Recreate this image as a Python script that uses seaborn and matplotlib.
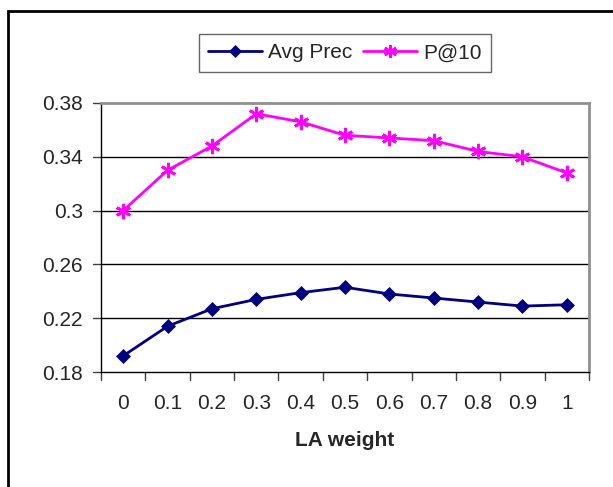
import matplotlib
matplotlib.use("Agg")
import matplotlib.pyplot as plt
import seaborn as sns
import pandas as pd
from matplotlib.patches import Rectangle
from matplotlib.transforms import blended_transform_factory

sns.set_style("white")
plt.rcParams['font.family'] = ['Liberation Sans', 'DejaVu Sans']

weights = ["0", "0.1", "0.2", "0.3", "0.4", "0.5", "0.6", "0.7", "0.8", "0.9", "1"]
avg_prec = [0.192, 0.214, 0.227, 0.234, 0.239, 0.243, 0.238, 0.235, 0.232, 0.229, 0.230]
p_at_10 = [0.300, 0.330, 0.348, 0.372, 0.366, 0.356, 0.354, 0.352, 0.344, 0.340, 0.328]
y_ticks = [0.18, 0.22, 0.26, 0.30, 0.34, 0.38]
y_tick_labels = ["0.18", "0.22", "0.26", "0.3", "0.34", "0.38"]

df = pd.DataFrame({
    "x": list(range(len(weights))) * 2,
    "value": avg_prec + p_at_10,
    "series": ["Avg Prec"] * len(weights) + ["P@10"] * len(weights),
})

W, H = 613, 487
FS = 15
fig = plt.figure(figsize=(W / 100, H / 100), dpi=100)
ax = fig.add_axes([101 / W, 1 - 372 / H, (589 - 101) / W, (372 - 103) / H])

colors = {"Avg Prec": "#000080", "P@10": "#FF00FF"}
markers = {"Avg Prec": "D", "P@10": (6, 2, 0)}
for name in ["Avg Prec", "P@10"]:
    sub = df[df.series == name]
    sns.lineplot(data=sub, x="x", y="value", ax=ax, color=colors[name],
                 marker=markers[name], markersize=7 if name == "Avg Prec" else 11,
                 markeredgewidth=0.5 if name == "Avg Prec" else 2,
                 markeredgecolor=colors[name], linewidth=2, label=name)

ax.set_xlim(-0.5, len(weights) - 0.5)
ax.set_ylim(0.18, 0.38)
ax.set_yticks(y_ticks)
ax.set_yticklabels(y_tick_labels, fontsize=FS)
ax.set_xticks(range(len(weights)))
ax.set_xticklabels(weights, fontsize=FS)
ax.tick_params(axis="x", length=0, pad=16)
ax.tick_params(axis="y", length=0, pad=13)

trans = blended_transform_factory(ax.transData, ax.transAxes)
for b in [i - 0.5 for i in range(len(weights) + 1)]:
    ax.plot([b, b], [0, -8 / (372 - 103)], transform=trans, color="#404040", lw=1, clip_on=False)
transy = blended_transform_factory(ax.transAxes, ax.transData)
for t in y_ticks:
    ax.plot([0, -8 / (589 - 101)], [t, t], transform=transy, color="#404040", lw=1, clip_on=False)

for t in y_ticks[1:-1]:
    ax.axhline(t, color="black", lw=1, zorder=0)

ax.set_xlabel("LA weight", fontsize=FS, fontweight="bold", labelpad=13)
ax.set_ylabel("")
for s in ["left", "bottom"]:
    ax.spines[s].set_color("black")
    ax.spines[s].set_linewidth(1)
for s in ["top", "right"]:
    ax.spines[s].set_color("#909090")
    ax.spines[s].set_linewidth(2)

leg = ax.legend(loc="center", bbox_to_anchor=((345 - 101) / (589 - 101), 1 + (103 - 53) / (372 - 103)),
                ncol=2, frameon=True, fontsize=FS, fancybox=False, handlelength=2.6,
                columnspacing=0.5, handletextpad=0.3, borderpad=0.45, markerscale=0.85)
leg.get_frame().set_edgecolor("#404040")
leg.get_frame().set_linewidth(1)

fig.patches.append(Rectangle((8 / W, -0.1), 1.2, 1 - 11 / H + 0.1, transform=fig.transFigure,
                             fill=False, edgecolor="black", linewidth=2))

fig.savefig("out.png", dpi=100)
